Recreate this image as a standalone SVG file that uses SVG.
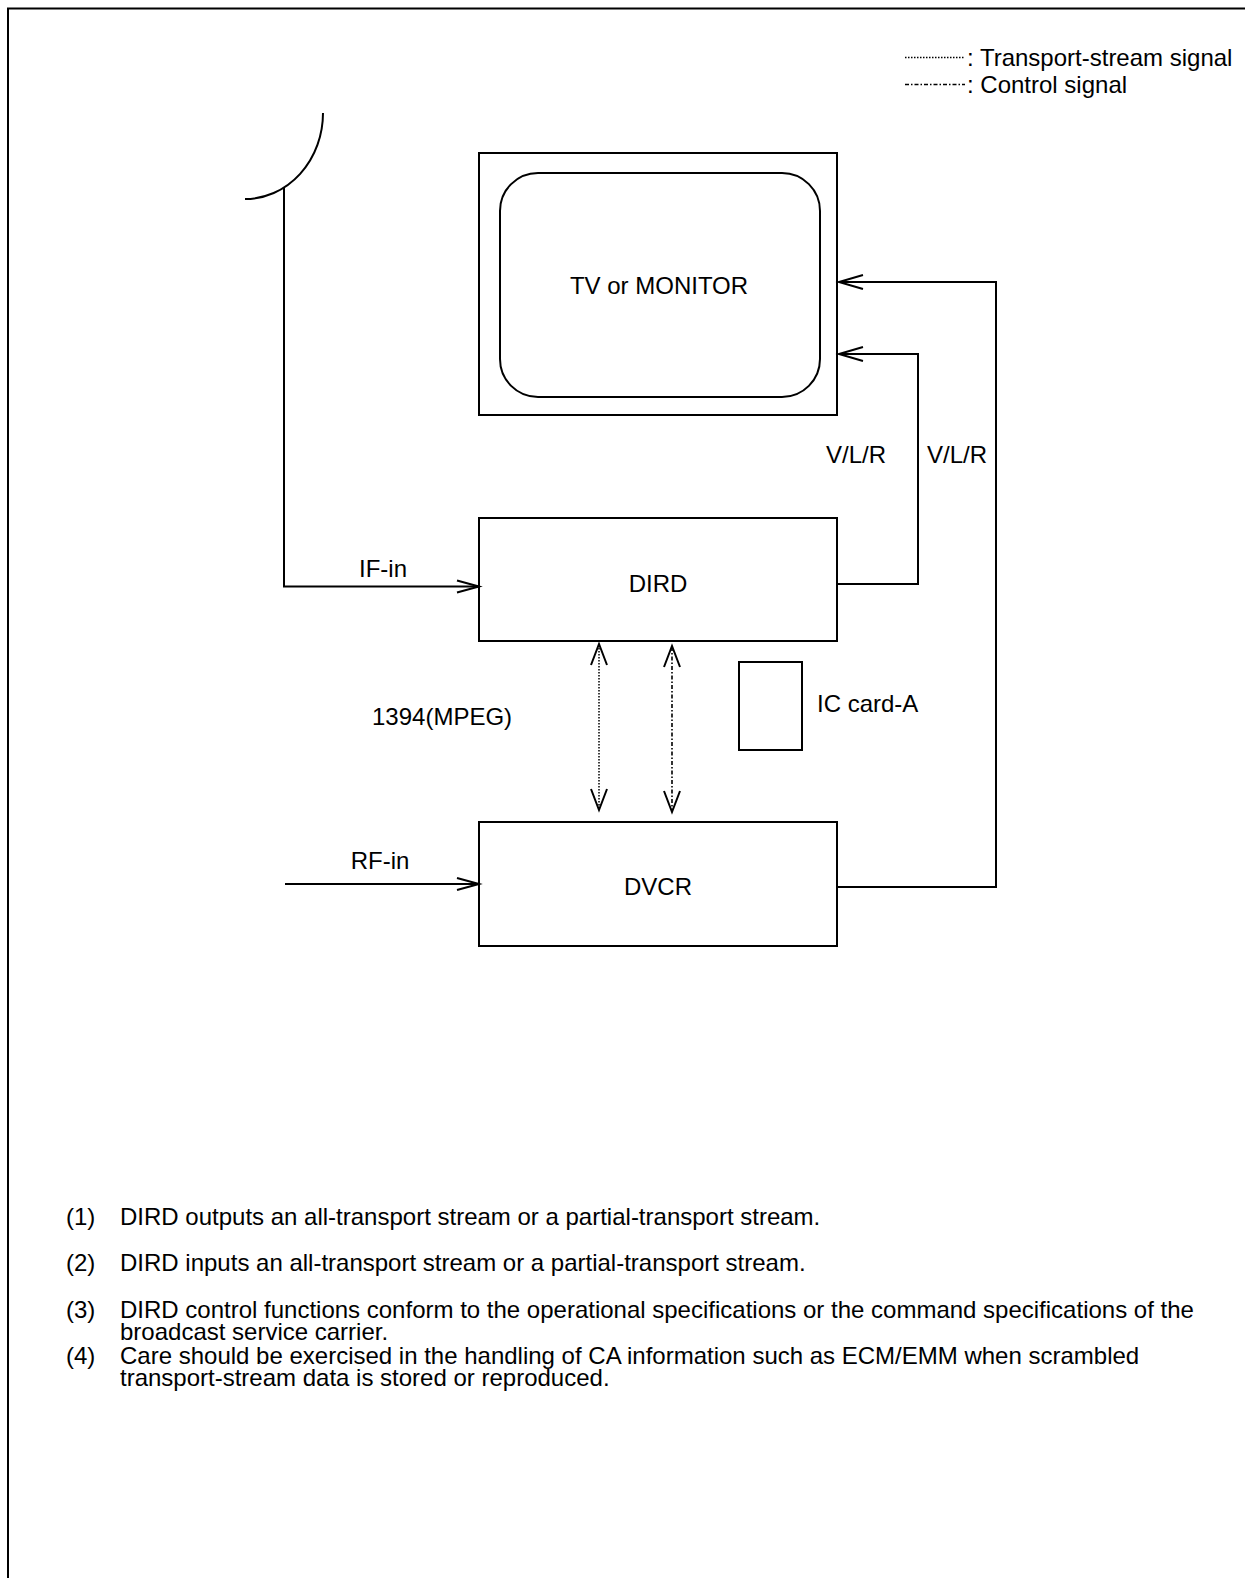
<svg xmlns="http://www.w3.org/2000/svg" width="1245" height="1578" viewBox="0 0 1245 1578">
<style>
text{font-family:"Liberation Sans",Arial,sans-serif;font-size:24px;fill:#000}
.box{fill:none;stroke:#000;stroke-width:2}
.ln{fill:none;stroke:#000;stroke-width:2}
.ah{fill:none;stroke:#000;stroke-width:2}
.dot{fill:none;stroke:#000;stroke-width:1.5;stroke-dasharray:1.5 1.5}
.dd{fill:none;stroke:#000;stroke-width:1.6;stroke-dasharray:4 2 1.5 2}
.mid{text-anchor:middle}
</style>
<rect width="1245" height="1578" fill="#fff"/>
<g id="frame"><path class="ln" d="M8 1578V8.5H1245"/></g>
<g id="legend">
<line class="dot" x1="905" y1="57.5" x2="965" y2="57.5"/>
<line class="dd" x1="905" y1="84.5" x2="965" y2="84.5"/>
<text x="967" y="66">: Transport-stream signal</text>
<text x="967" y="93">: Control signal</text>
</g>
<g id="antenna"><path class="ln" d="M245 199A78 86 0 0 0 323 113"/></g>
<g id="tv">
<rect class="box" x="479" y="153" width="358" height="262"/>
<rect class="box" x="500" y="173" width="320" height="224" rx="38" ry="38"/>
<text class="mid" x="659" y="294">TV or MONITOR</text>
</g>
<g id="dird">
<rect class="box" x="479" y="518" width="358" height="123"/>
<text class="mid" x="658" y="592">DIRD</text>
</g>
<g id="dvcr">
<rect class="box" x="479" y="822" width="358" height="124"/>
<text class="mid" x="658" y="895">DVCR</text>
</g>
<g id="iccard">
<rect class="box" x="739" y="662" width="63" height="88"/>
<text x="817" y="712">IC card-A</text>
</g>
<g id="connectors">
<polyline class="ln" points="284,188 284,586.5 479,586.5"/>
<polyline class="ah" points="457,580.5 479,586.5 457,592.5"/>
<line class="ln" x1="285" y1="884" x2="479" y2="884"/>
<polyline class="ah" points="457,878 479,884 457,890"/>
<polyline class="ln" points="837,584 918,584 918,354 839,354"/>
<polyline class="ah" points="863,347 839,354 863,361"/>
<polyline class="ln" points="837,887 996,887 996,282 839,282"/>
<polyline class="ah" points="863,275 839,282 863,289"/>
<line class="dot" x1="599" y1="645" x2="599" y2="809"/>
<polyline class="ah" points="591,665 599,644 607,665"/>
<polyline class="ah" points="591,789 599,810 607,789"/>
<line class="dd" x1="672" y1="647" x2="672" y2="811"/>
<polyline class="ah" points="664,667 672,646 680,667"/>
<polyline class="ah" points="664,791 672,812 680,791"/>
</g>
<g id="labels">
<text class="mid" x="383" y="577">IF-in</text>
<text class="mid" x="380" y="869">RF-in</text>
<text x="372" y="725">1394(MPEG)</text>
<text class="mid" x="856" y="463">V/L/R</text>
<text class="mid" x="957" y="463">V/L/R</text>
</g>
<g id="notes">
<text x="66" y="1225">(1)</text><text x="120" y="1225">DIRD outputs an all-transport stream or a partial-transport stream.</text>
<text x="66" y="1271">(2)</text><text x="120" y="1271">DIRD inputs an all-transport stream or a partial-transport stream.</text>
<text x="66" y="1318">(3)</text><text x="120" y="1318">DIRD control functions conform to the operational specifications or the command specifications of the</text>
<text x="120" y="1340">broadcast service carrier.</text>
<text x="66" y="1364">(4)</text><text x="120" y="1364">Care should be exercised in the handling of CA information such as ECM/EMM when scrambled</text>
<text x="120" y="1386">transport-stream data is stored or reproduced.</text>
</g>
</svg>
